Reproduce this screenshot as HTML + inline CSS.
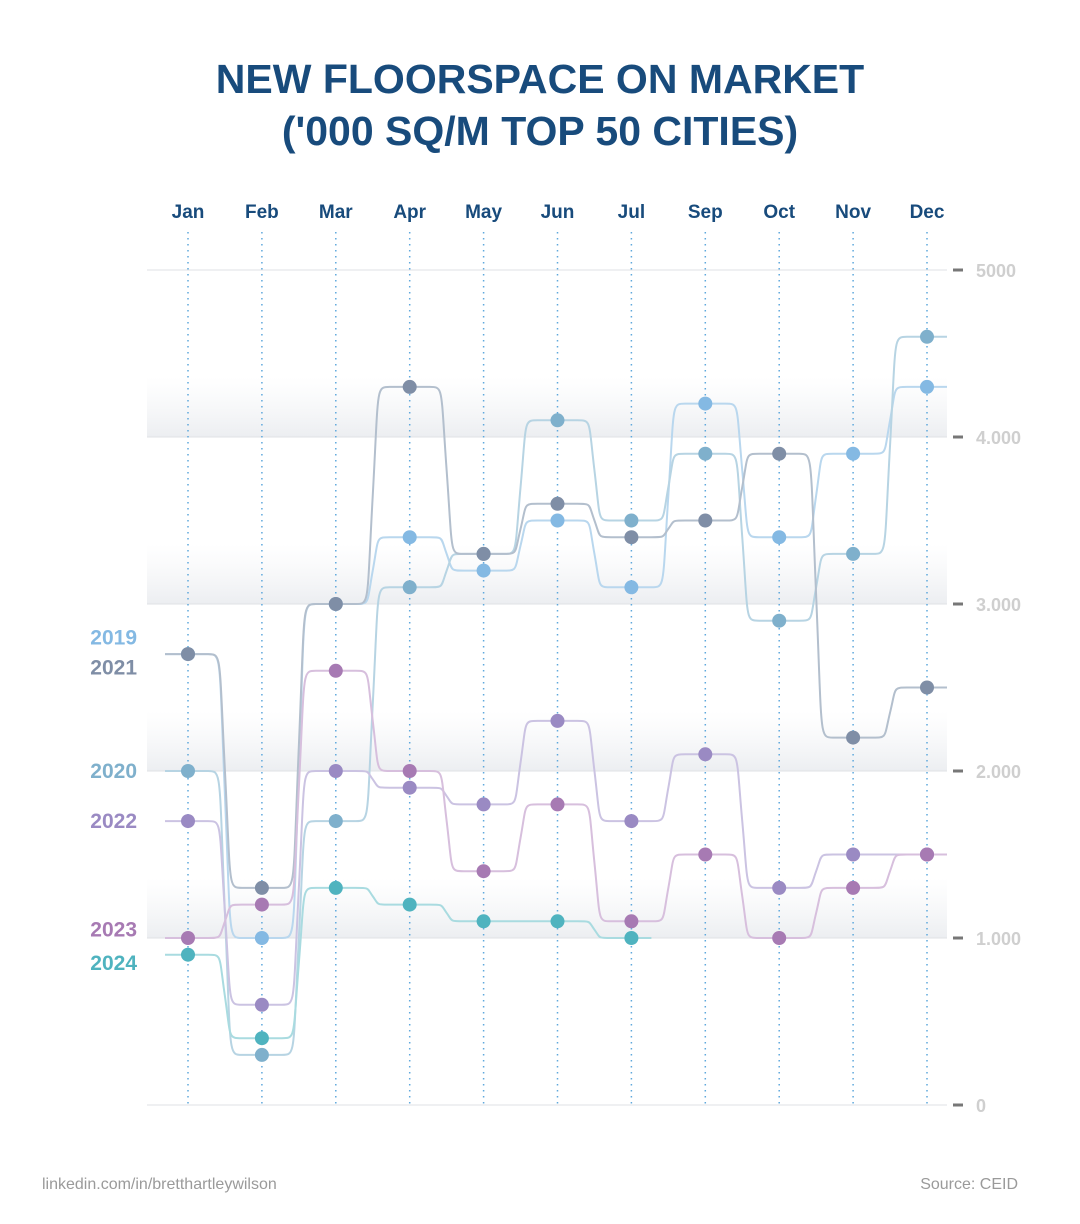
<!DOCTYPE html>
<html><head><meta charset="utf-8"><style>
body{margin:0;background:#fff;width:1080px;height:1219px;overflow:hidden;font-family:"Liberation Sans",sans-serif}
</style></head><body>
<svg width="1080" height="1219" viewBox="0 0 1080 1219">
<defs>
<linearGradient id="band" x1="0" y1="0" x2="0" y2="1">
<stop offset="0" stop-color="#f3f4f6" stop-opacity="0"/>
<stop offset="1" stop-color="#eceef1" stop-opacity="1"/>
</linearGradient>
</defs>
<text x="540" y="93" text-anchor="middle" font-size="41" font-weight="bold" fill="#184b7c">NEW FLOORSPACE ON MARKET</text>
<text x="540" y="145" text-anchor="middle" font-size="41" font-weight="bold" fill="#184b7c">('000 SQ/M TOP 50 CITIES)</text>
<g id="bands"></g>
<g id="grid"></g>
<g id="lines"></g>
<g id="labels"></g>
<text x="42" y="1189" font-size="16" fill="#9a9a9a">linkedin.com/in/bretthartleywilson</text>
<text x="1018" y="1189" text-anchor="end" font-size="16" fill="#9a9a9a">Source: CEID</text>
</svg>
<script>
const months=["Jan","Feb","Mar","Apr","May","Jun","Jul","Sep","Oct","Nov","Dec"];
const yTicks=[0,1000,2000,3000,4000,5000];
const yTickLabels=["0","1.000","2.000","3.000","4.000","5000"];
const years=["2019","2020","2021","2022","2023","2024"];
const v2019=[2700,1000,3000,3400,3200,3500,3100,4200,3400,3900,4300];
const v2020=[2000,300,1700,3100,3300,4100,3500,3900,2900,3300,4600];
const v2021=[2700,1300,3000,4300,3300,3600,3400,3500,3900,2200,2500];
const v2022=[1700,600,2000,1900,1800,2300,1700,2100,1300,1500,1500];
const v2023=[1000,1200,2600,2000,1400,1800,1100,1500,1000,1300,1500];
const v2024=[900,400,1300,1200,1100,1100,1000];
const series=[v2019,v2020,v2021,v2022,v2023,v2024];
const lineCol=["#b9d7ee","#b7d4e3","#b3bfcd","#cbc3e2","#d7bfdd","#a9dbe0"];
const dotCol=["#84b9e3","#7fb0cc","#7f8ea6","#9a8ac3","#a77ab3","#4fb3bf"];
const labelY=[2800,2000,2620,1700,1050,850];
const NS="http://www.w3.org/2000/svg";
const x=i=>188+i*73.9;
const y=v=>1105-v*(835/5000);
function mk(t,a,p){const e=document.createElementNS(NS,t);for(const k in a)e.setAttribute(k,a[k]);p.appendChild(e);return e;}
const bands=document.getElementById('bands'),grid=document.getElementById('grid'),lines=document.getElementById('lines'),labels=document.getElementById('labels');
yTicks.forEach((t,i)=>{
 if(t>0&&t<5000){const r=mk('rect',{x:147,y:y(t)-60,width:800,height:60,fill:'url(#band)'},bands);
 
 }
 const l=mk('line',{x1:147,x2:947,y1:y(t),y2:y(t),stroke:'#dfe1e4','stroke-width':1},grid);
 
 
 const tk=mk('line',{x1:953,x2:963,y1:y(t),y2:y(t),stroke:'#777','stroke-width':3},grid);
 
 
 const tx=mk('text',{x:976,y:y(t)+7,'font-size':18,'font-weight':'bold',fill:'#cfcfcf'},grid);
 tx.textContent=yTickLabels[i];
 
 
});
months.forEach((m,i)=>{
 const l=mk('line',{x1:x(i),x2:x(i),y1:232,y2:1105,stroke:'#5fa8dc','stroke-width':1.5,'stroke-dasharray':'1.5 4.5'},grid);
 
 
 const t=mk('text',{x:x(i),y:218,'text-anchor':'middle','font-size':19,'font-weight':'bold',fill:'#184b7c'},grid);
 t.textContent=m;
 
 
});
series.forEach((vals,s)=>{
 const h=20;let d='M'+(x(0)-23)+' '+y(vals[0]);
 vals.forEach((v,i)=>{
  if(i>0){const x0=x(i-1)+h,y0=y(vals[i-1]),x1=x(i)-h,y1=y(v);const mid=(x0+x1)/2;
   d+=' C'+(x0+14)+' '+y0+' '+(mid-6)+' '+y0+' '+mid+' '+((y0+y1)/2)+' S'+(x1-14)+' '+y1+' '+x1+' '+y1;}
  d+=' L'+(x(i)+h)+' '+y(v);
 });
 const p=mk('path',{d:d,fill:'none',stroke:lineCol[s],'stroke-width':2},lines);
 
 
});
series.forEach((vals,s)=>{
 vals.forEach((v,i)=>{
  const c=mk('circle',{cx:x(i),cy:y(v),r:7,fill:dotCol[s]},lines);
  
  
 });
 const t=mk('text',{x:137,y:y(labelY[s])+7,'text-anchor':'end','font-size':21,'font-weight':'bold',fill:dotCol[s]},labels);
 t.textContent=years[s];
 
 
});
</script>
</body></html>
